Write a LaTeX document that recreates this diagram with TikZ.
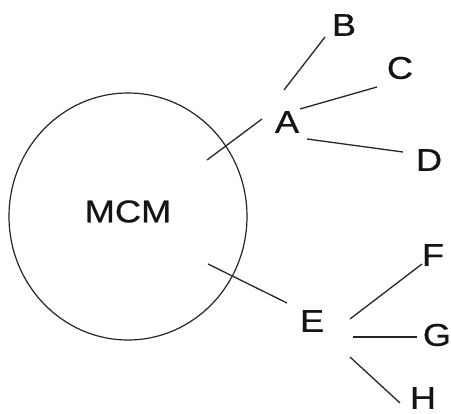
\documentclass[tikz,border=0pt]{standalone}
\usepackage{fontspec}
\setmainfont{Liberation Sans}[FakeStretch=1.15,FakeBold=0.6]
\usetikzlibrary{shapes.geometric}
\begin{document}
\begin{tikzpicture}[x=1pt,y=-1pt,
  letter/.style={inner sep=0pt, font=\fontsize{31.5}{33}\selectfont, text=black!92},
  link/.style={line width=1.3pt, draw=black!85},
  ring/.style={ellipse, draw=black!85, line width=1.2pt, minimum width=238pt, minimum height=247pt, inner sep=0pt}]
\useasboundingbox (0,0) rectangle (451,414);
\fill[white] (0,0) rectangle (451,414);
\node[ring] (ring) at (128,216.5) {};
\node[letter] (mcm) at (128,211.5) {MCM};
\node[letter] (A) at (287,122) {A};
\node[letter] (B) at (344,25) {B};
\node[letter] (C) at (400,68) {C};
\node[letter] (D) at (429,160) {D};
\node[letter] (E) at (312,321) {E};
\node[letter] (F) at (433,255) {F};
\node[letter] (G) at (437,335) {G};
\node[letter] (H) at (423,398) {H};
% connector ends
\coordinate (a0) at (207,160); \coordinate (a1) at (262,119);
\coordinate (ab0) at (284,90); \coordinate (ab1) at (325,37);
\coordinate (ac0) at (300,109); \coordinate (ac1) at (377,87);
\coordinate (ad0) at (307,139); \coordinate (ad1) at (403,152);
\coordinate (e0) at (208,264); \coordinate (e1) at (287,303);
\coordinate (ef0) at (350,319); \coordinate (ef1) at (422,264);
\coordinate (eg0) at (353,337); \coordinate (eg1) at (417,337);
\coordinate (eh0) at (350,357); \coordinate (eh1) at (400,403);
\draw[link] (a0) -- (a1);
\draw[link] (ab0) -- (ab1);
\draw[link] (ac0) -- (ac1);
\draw[link] (ad0) -- (ad1);
\draw[link] (e0) -- (e1);
\draw[link] (ef0) -- (ef1);
\draw[link] (eg0) -- (eg1);
\draw[link] (eh0) -- (eh1);
\end{tikzpicture}
\end{document}
